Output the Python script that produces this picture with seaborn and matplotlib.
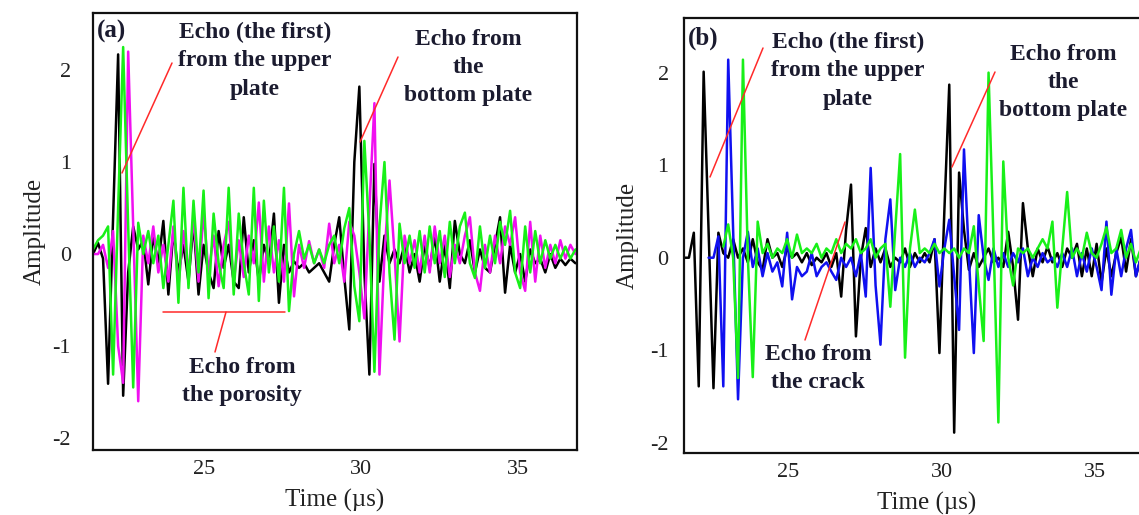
import numpy as np
import pandas as pd
import matplotlib
matplotlib.use('Agg')
import matplotlib.pyplot as plt
import seaborn as sns
from matplotlib.lines import Line2D

nan = np.nan

# sampling of the traces (µs)
T0_A = 21.47
T0_B = 21.60
DT = 0.16

# panel (a): intact / porosity signals
black_a = [0.0, 0.12, -0.05, -1.41, 0.4, 2.17, -1.54, -0.2, 0.3, 0.05,
           0.15, -0.33, 0.2, -0.1, 0.36, -0.44, 0.25, -0.2, 0.1, -0.3,
           0.34, -0.44, 0.1, -0.2, -0.37, 0.25, -0.15, 0.1, -0.3, -0.37,
           0.4, -0.2, 0.15, -0.3, 0.1, -0.1, 0.44, -0.53, 0.1, -0.2,
           -0.08, -0.15, -0.1, -0.2, -0.15, -0.1, -0.2, -0.3, 0.1, 0.4,
           -0.25, -0.82, 1.0, 1.82, -0.2, -1.31, 0.98, -0.3, 0.2, -0.1,
           0.05, -0.1, 0.1, -0.2, 0.0, -0.3, 0.1, -0.15, 0.2, -0.3,
           0.1, -0.37, 0.36, 0.0, -0.1, 0.15, -0.2, 0.05, -0.15, -0.2,
           0.1, 0.4, -0.42, 0.1, -0.2, 0.0, -0.3, 0.05, -0.1, -0.05,
           -0.2, 0.0, -0.15, -0.05, -0.12, -0.05, -0.1]
magenta_a = [0.0, 0.0, 0.1, -0.15, 0.25, -1.0, -1.4, 2.2, 0.3, -1.6,
             0.2, -0.1, 0.3, -0.2, 0.1, -0.3, 0.3, -0.35, 0.25, -0.2,
             0.4, -0.3, 0.45, -0.2, 0.2, -0.35, 0.1, 0.35, -0.3, 0.15,
             -0.25, 0.2, -0.1, 0.56, -0.3, 0.3, -0.2, 0.15, -0.3, 0.55,
             -0.46, 0.1, -0.15, 0.14, -0.1, 0.05, -0.15, 0.33, -0.1, 0.1,
             -0.3, 0.35, 0.2, -0.2, -0.7, 0.5, 1.64, -1.31, 0.0, 0.8,
             0.0, -0.95, 0.2, -0.1, 0.15, -0.2, 0.2, -0.2, 0.3, -0.1,
             0.2, -0.25, 0.1, -0.1, 0.2, 0.4, -0.2, -0.4, 0.1, -0.2,
             0.2, -0.1, 0.3, 0.1, 0.4, -0.2, -0.4, 0.35, -0.3, 0.2,
             -0.15, 0.1, -0.1, 0.15, -0.05, 0.1, 0.0]
green_a = [0.05, 0.15, 0.2, 0.3, -1.31, 0.5, 2.25, 0.3, -1.45, 0.34,
           0.0, 0.25, -0.1, 0.2, -0.37, 0.1, 0.58, -0.53, 0.72, -0.37,
           0.58, -0.2, 0.69, -0.48, 0.44, -0.1, -0.37, 0.72, -0.44, 0.44,
           -0.1, -0.44, 0.72, -0.51, 0.58, -0.2, 0.3, -0.3, 0.72, -0.62,
           0.0, 0.25, -0.05, 0.1, -0.1, 0.05, -0.1, 0.1, 0.2, -0.1,
           0.28, 0.5, -0.35, -0.73, 1.23, 0.2, -1.28, 0.3, 1.0, -0.2,
           -0.93, 0.33, -0.1, 0.2, -0.15, 0.25, -0.2, 0.3, -0.1, 0.25,
           -0.25, 0.35, -0.1, 0.3, 0.45, -0.1, -0.26, 0.3, -0.15, 0.2,
           -0.1, 0.35, 0.1, 0.47, -0.2, -0.37, 0.3, -0.2, 0.25, -0.1,
           0.15, -0.05, 0.1, -0.05, 0.08, -0.05, 0.05]

# panel (b): crack signals
black_b = [0.0, 0.0, 0.27, -1.39, 2.01, 0.3, -1.41, 0.27, 0.05, 0.0,
           0.2, 0.0, 0.1, -0.05, 0.2, -0.05, -0.13, 0.2, 0.0, 0.05,
           -0.1, 0.1, 0.0, 0.05, -0.05, 0.05, -0.08, 0.0, -0.05, 0.05,
           -0.1, 0.05, -0.42, 0.3, 0.79, -0.85, 0.0, 0.32, -0.1, 0.1,
           -0.05, 0.1, -0.1, 0.0, -0.05, 0.1, -0.1, 0.05, -0.05, 0.05,
           -0.05, 0.2, -1.03, 0.5, 1.87, -1.89, 0.92, 0.3, -0.13, 0.05,
           -0.1, 0.0, 0.1, -0.05, 0.0, -0.1, 0.28, -0.1, -0.67, 0.59,
           0.1, -0.2, 0.1, -0.05, 0.12, -0.05, 0.05, -0.1, 0.1, 0.0,
           0.15, -0.2, 0.1, -0.2, 0.15, -0.27, 0.1, -0.2, 0.05, 0.22,
           -0.15, 0.2, -0.2, 0.0]
blue_b = [nan, nan, nan, nan, nan, 0.0, 0.0, 0.23, -1.39, 2.14,
          0.3, -1.53, 0.0, 0.28, -0.1, 0.1, -0.2, 0.05, -0.15, -0.05,
          -0.31, 0.27, -0.45, -0.1, -0.2, -0.15, 0.05, -0.2, -0.1, -0.05,
          -0.15, -0.24, 0.0, -0.1, 0.0, -0.2, 0.05, -0.42, 0.97, -0.3,
          -0.94, 0.2, 0.63, -0.35, 0.0, -0.1, 0.05, -0.1, 0.0, -0.05,
          0.05, 0.2, -0.31, 0.1, 0.41, -0.2, -0.78, 1.17, 0.0, -1.03,
          0.46, 0.0, -0.24, 0.1, -0.1, 0.05, -0.1, 0.05, -0.05, 0.1,
          -0.2, 0.0, -0.1, 0.05, -0.05, 0.0, -0.1, 0.05, -0.1, 0.1,
          -0.2, 0.05, -0.15, 0.1, -0.1, -0.35, 0.39, -0.4, 0.1, -0.2,
          0.1, 0.3, -0.2, 0.0]
green_b = [nan, nan, nan, nan, nan, nan, nan, nan, 0.12, 0.36,
           0.0, -1.3, 2.14, 0.0, -1.29, 0.39, 0.05, 0.15, 0.0, 0.1,
           0.05, 0.2, 0.0, 0.25, 0.05, 0.1, 0.05, 0.15, 0.0, 0.1,
           0.05, 0.2, 0.05, 0.15, 0.1, 0.2, 0.05, 0.1, 0.2, 0.0,
           0.1, 0.15, -0.53, 0.3, 1.12, -1.08, 0.1, 0.52, 0.05, 0.1,
           0.05, 0.15, 0.05, 0.1, 0.05, 0.1, 0.0, 0.1, 0.05, 0.34,
           -0.3, -0.9, 2.0, 0.2, -1.78, 1.04, 0.0, -0.3, 0.1, 0.05,
           0.1, 0.0, 0.1, 0.2, 0.1, 0.39, -0.54, 0.1, 0.71, 0.0,
           0.1, 0.0, 0.27, 0.05, 0.0, 0.15, 0.33, 0.05, 0.1, 0.3,
           0.0, 0.15, -0.05, 0.1]

x_ticks = [25, 30, 35]
y_ticks = [-2, -1, 0, 1, 2]


def long_df(t0, traces):
    frames = []
    for name, vals in traces.items():
        t = np.round(t0 + DT * np.arange(len(vals)), 3)
        frames.append(pd.DataFrame({'t': t, 'amp': vals, 'trace': name}))
    return pd.concat(frames).dropna()


df_a = long_df(T0_A, {'black': black_a, 'magenta': magenta_a, 'green': green_a})
df_b = long_df(T0_B, {'black': black_b, 'blue': blue_b, 'green': green_b})

sns.set_theme(style='white')
plt.rcParams['font.family'] = ['Liberation Serif', 'DejaVu Serif']
plt.rcParams['axes.unicode_minus'] = False

W, H = 1139, 515
fig = plt.figure(figsize=(W / 100, H / 100), dpi=100)


def box(l, t, r, b):
    return [l / W, 1 - b / H, (r - l) / W, (b - t) / H]


ax_a = fig.add_axes(box(93, 13, 577, 450))
ax_b = fig.add_axes(box(684, 18, 1170, 453))

sns.lineplot(data=df_a, x='t', y='amp', hue='trace',
             hue_order=['black', 'magenta', 'green'],
             palette={'black': '#000000', 'magenta': '#f010f0', 'green': '#18f018'},
             estimator=None, sort=False, lw=1.8, legend=False, ax=ax_a)
sns.lineplot(data=df_b, x='t', y='amp', hue='trace',
             hue_order=['black', 'blue', 'green'],
             palette={'black': '#000000', 'blue': '#1010f0', 'green': '#18f018'},
             estimator=None, sort=False, lw=1.8, legend=False, ax=ax_b)

ax_a.set_xlim(21.47, 36.88)
ax_a.set_ylim(-2.13, 2.62)
ax_b.set_xlim(21.6, 37.43)
ax_b.set_ylim(-2.11, 2.59)

for ax, ypad, lpad in [(ax_a, 16, 5), (ax_b, 11, 8)]:
    ax.set_xticks(x_ticks)
    ax.set_yticks(y_ticks)
    ax.tick_params(axis='both', length=0, labelsize=16, colors='#222222')
    ax.tick_params(axis='x', pad=7)
    ax.tick_params(axis='y', pad=ypad)
    ax.set_xlabel('Time (µs)', fontsize=18, labelpad=7, color='#222222')
    ax.set_ylabel('Amplitude', fontsize=18, labelpad=lpad, color='#222222')
    for s in ax.spines.values():
        s.set_color('#111111')
        s.set_linewidth(1.6)

txt_kw = dict(fontsize=17, fontweight='bold', color='#1b1b2f', ha='center',
              va='top', linespacing=1.45)


def ftext(x, y, s, **kw):
    opts = dict(txt_kw)
    opts.update(kw)
    fig.text(x / W, 1 - y / H, s, **opts)


def fline(x1, y1, x2, y2):
    fig.add_artist(Line2D([x1 / W, x2 / W], [1 - y1 / H, 1 - y2 / H],
                          transform=fig.transFigure, color='#ff2a2a', lw=1.1))


# panel (a) annotations
ftext(97, 31, '(a)', ha='left', va='center', fontsize=18)
ftext(255, 22, 'Echo (the first)\nfrom the upper\nplate')
ftext(468, 29, 'Echo from\nthe\nbottom plate')
ftext(242, 357, 'Echo from\nthe porosity')
fline(122, 173, 172, 63)
fline(360, 142, 398, 57)
fline(163, 312, 285, 312)
fline(226, 312, 215, 352)

# panel (b) annotations
ftext(688, 38, '(b)', ha='left', va='center', fontsize=18)
ftext(848, 32, 'Echo (the first)\nfrom the upper\nplate')
ftext(1063, 44, 'Echo from\nthe\nbottom plate')
ftext(818, 344, 'Echo from\nthe crack')
fline(710, 177, 763, 48)
fline(952, 167, 995, 72)
fline(845, 222, 805, 340)

fig.savefig('out.png', dpi=100)
